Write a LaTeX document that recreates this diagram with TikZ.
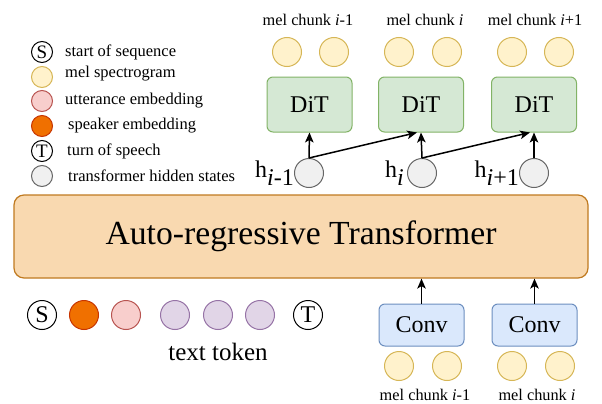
\documentclass[tikz,border=0pt]{standalone}
\usepackage{fontspec}
\setmainfont{Liberation Serif}
\usetikzlibrary{arrows.meta}
\definecolor{melfill}{HTML}{FFF2CC}
\definecolor{meldraw}{HTML}{D6B656}
\definecolor{uttfill}{HTML}{F8CECC}
\definecolor{uttdraw}{HTML}{B85450}
\definecolor{spkfill}{HTML}{F07000}
\definecolor{spkdraw}{HTML}{C73500}
\definecolor{txtfill}{HTML}{E1D5E7}
\definecolor{txtdraw}{HTML}{9673A6}
\definecolor{hidfill}{HTML}{F0F0F0}
\definecolor{hiddraw}{HTML}{666666}
\definecolor{trfill}{HTML}{F9D9B0}
\definecolor{trdraw}{HTML}{C07A20}
\definecolor{ditfill}{HTML}{D5E8D4}
\definecolor{ditdraw}{HTML}{82B366}
\definecolor{convfill}{HTML}{DAE8FC}
\definecolor{convdraw}{HTML}{6C8EBF}
\newcommand{\hsub}[1]{h\raisebox{-0.35em}{\itshape #1}}
\begin{document}
\begin{tikzpicture}[x=1pt,y=-1pt,
  circ/.style={circle, minimum size=29pt, inner sep=0pt, line width=1pt},
  lcirc/.style={circle, minimum size=21pt, inner sep=0pt, line width=1pt},
  melc/.style={fill=melfill, draw=meldraw},
  uttc/.style={fill=uttfill, draw=uttdraw},
  spkc/.style={fill=spkfill, draw=spkdraw},
  txtc/.style={fill=txtfill, draw=txtdraw},
  hidc/.style={fill=hidfill, draw=hiddraw},
  symc/.style={fill=white, draw=black},
  ditbox/.style={draw=ditdraw, fill=ditfill, rounded corners=6pt, line width=1pt, minimum width=85pt, minimum height=55pt, font=\fontsize{24}{28}\selectfont},
  convbox/.style={draw=convdraw, fill=convfill, rounded corners=6pt, line width=1pt, minimum width=85pt, minimum height=42pt, font=\fontsize{24}{28}\selectfont},
  lgtext/.style={anchor=west, font=\fontsize{16.5}{19}\selectfont, inner sep=0pt},
  small/.style={font=\fontsize{16.3}{19}\selectfont, inner sep=0pt},
  arr/.style={-{Stealth[length=10pt,width=8.5pt,inset=2.5pt]}, line width=1.5pt}
]
\useasboundingbox (0,0) rectangle (602,404);

% legend
\node[lcirc, symc, font=\fontsize{19}{22}\selectfont] (lS) at (42,52) {S};
\node[lcirc, melc] (lM) at (42,77) {};
\node[lcirc, uttc] (lU) at (42,101) {};
\node[lcirc, spkc] (lK) at (42,126) {};
\node[lcirc, symc, font=\fontsize{19}{22}\selectfont] (lT) at (42,151) {T};
\node[lcirc, hidc] (lH) at (42,176) {};
\node[lgtext] (tS) at (65,52) {start of sequence};
\node[lgtext] (tM) at (65,74) {mel spectrogram};
\node[lgtext] (tU) at (65,101) {utterance embedding};
\node[lgtext] (tK) at (68,126) {speaker embedding};
\node[lgtext] (tT) at (67,151) {turn of speech};
\node[lgtext] (tH) at (68,176) {transformer hidden states};

% transformer
\node[draw=trdraw, fill=trfill, rounded corners=10pt, line width=1.2pt, minimum width=574pt, minimum height=83pt, font=\fontsize{33.7}{38}\selectfont] (tr) at (301,236.5) {Auto-regressive Transformer};

% DiT
\node[ditbox] (d1) at (309.5,104.5) {DiT};
\node[ditbox] (d2) at (421,104.5) {DiT};
\node[ditbox] (d3) at (534,104.5) {DiT};

% top mel
\node[circ, melc] (m1) at (287,52) {};
\node[circ, melc] (m2) at (334,52) {};
\node[circ, melc] (m3) at (399,52) {};
\node[circ, melc] (m4) at (447,52) {};
\node[circ, melc] (m5) at (512,52) {};
\node[circ, melc] (m6) at (559,52) {};
\node[small] (c1) at (308,20) {mel chunk {\itshape i}-1};
\node[small] (c2) at (425,20) {mel chunk {\itshape i}};
\node[small] (c3) at (535,20) {mel chunk {\itshape i}+1};

% hidden states
\node[circ, hidc] (h1) at (309,173) {};
\node[circ, hidc] (h2) at (422,173) {};
\node[circ, hidc] (h3) at (534,173) {};
\node[font=\fontsize{24}{28}\selectfont, anchor=east, inner sep=0pt] (lh1) at (h1.west) {\hsub{i-}\raisebox{-0.35em}{1}};
\node[font=\fontsize{24}{28}\selectfont, anchor=east, inner sep=1pt] (lh2) at ([xshift=-2pt]h2.west) {\hsub{i}};
\node[font=\fontsize{24}{28}\selectfont, anchor=east, inner sep=0pt] (lh3) at (h3.west) {\hsub{i}\raisebox{-0.35em}{+1}};

\draw[arr] (h1.north) -- (d1.south);
\draw[arr] (h2.north) -- (d2.south);
\draw[arr] (h3.north) -- (d3.south);
\draw[arr] (h1.north) -- ([xshift=-4pt]d2.south);
\draw[arr] (h2.north) -- ([xshift=-4pt]d3.south);

% bottom tokens
\node[circ, symc, font=\fontsize{24}{28}\selectfont] (bS) at (42,315) {S};
\node[circ, spkc] (bK) at (84,315) {};
\node[circ, uttc] (bU) at (126,315) {};
\node[circ, txtc] (b1) at (175,315) {};
\node[circ, txtc] (b2) at (218,315) {};
\node[circ, txtc] (b3) at (260,315) {};
\node[circ, symc, font=\fontsize{24}{28}\selectfont] (bT) at (308,315) {T};
\node[font=\fontsize{25}{29}\selectfont, inner sep=0pt] (tt) at (218,352) {text token};

% conv
\node[convbox] (v1) at (421.5,325) {Conv};
\node[convbox] (v2) at (534.5,325) {Conv};
\draw[arr] (v1.north) -- (v1.north |- tr.south);
\draw[arr] (v2.north) -- (v2.north |- tr.south);
\node[circ, melc] (n1) at (399,366) {};
\node[circ, melc] (n2) at (447,366) {};
\node[circ, melc] (n3) at (512,366) {};
\node[circ, melc] (n4) at (560,366) {};
\node[small] (e1) at (425,395) {mel chunk {\itshape i}-1};
\node[small] (e2) at (537,395) {mel chunk {\itshape i}};
\end{tikzpicture}
\end{document}
